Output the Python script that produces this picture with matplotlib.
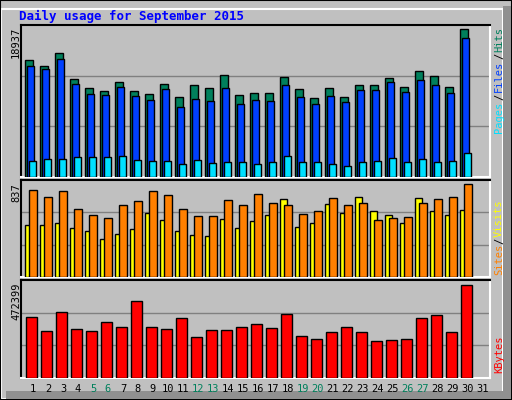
import matplotlib
matplotlib.use("Agg")
import matplotlib.pyplot as plt
from matplotlib.patches import Rectangle
import numpy as np

# ================= Data =================
days = list(range(1, 32))
hits = [14850, 14080, 15740, 12410, 11260, 10880, 12030, 10880, 10490, 11770,
        10110, 11650, 11260, 12930, 10370, 10620, 10620, 12670, 11140, 9980,
        11260, 10110, 11650, 11650, 12540, 11390, 13440, 12800, 11390, 18810]
files = [14080, 13700, 14980, 11780, 10500, 10370, 11390, 10240, 9730, 11140,
         8960, 9860, 9600, 11260, 9220, 9730, 9600, 11650, 10110, 9220,
         10240, 9470, 11010, 11010, 12030, 10750, 12290, 11650, 10620, 17660]
pages = [2050, 2300, 2300, 2560, 2560, 2560, 2690, 2180, 2050, 2050,
         1660, 2180, 1790, 1920, 1920, 1660, 1920, 2690, 1920, 1920,
         1660, 1410, 1920, 2050, 2430, 1920, 2300, 1920, 2050, 3070]
visits = [782, 716, 771, 616, 561, 534, 652, 680, 771, 734,
          616, 552, 552, 689, 652, 743, 662, 652, 571, 598,
          707, 652, 662, 516, 534, 543, 662, 698, 716, 834]
sites = [464, 464, 482, 437, 410, 346, 391, 428, 573, 510,
         410, 382, 373, 519, 437, 501, 555, 701, 446, 482,
         655, 573, 719, 592, 555, 482, 710, 592, 555, 601]
kbytes = [304500, 237700, 330200, 248000, 237700, 284000, 258300, 386700, 258300, 248000,
          299400, 206900, 242900, 242900, 258300, 273700, 253200, 319900, 212100, 196700,
          232600, 258300, 232600, 186400, 191600, 196700, 299400, 314800, 232600, 468800]
weekend = [5, 6, 12, 13, 19, 20, 26, 27]
max_hits, max_visits, max_kbytes = 18937, 837, 472399
# ===============================================================

BG = "#C0C0C0"
W, H = 512, 400
fig = plt.figure(figsize=(W / 100, H / 100), dpi=100, facecolor=BG)

# 3D-ish outer frame
fig.add_artist(Rectangle((1 / W, 1 / H), (W - 10) / W, (H - 10) / H, transform=fig.transFigure,
                         fill=False, ec="white", lw=1.5))
fig.add_artist(Rectangle((0, 0), 1, 1, transform=fig.transFigure, fill=False, ec="black", lw=1.5))
fig.add_artist(Rectangle((6 / W, 1 / H), (W - 7) / W, 8 / H, transform=fig.transFigure,
                         fc="#909090", ec="none"))
fig.add_artist(Rectangle(((W - 9) / W, 1 / H), 8 / W, (H - 7) / H, transform=fig.transFigure,
                         fc="#909090", ec="none"))

fig.text(19 / W, 1 - 16 / H, "Daily usage for September 2015", color="#0000FF",
         family="DejaVu Sans Mono", fontweight="bold", fontsize=9, va="center")

x = np.array(days[:30])
XL = (0.333, 31.6)


def make_ax(top, bottom):
    ax = fig.add_axes([21 / W, 1 - bottom / H, 469 / W, (bottom - top) / H])
    ax.set_facecolor(BG)
    ax.set_xlim(*XL)
    ax.set_xticks([])
    ax.set_yticks([])
    for s in ("top", "left"):
        ax.spines[s].set_color("black")
    for s in ("bottom", "right"):
        ax.spines[s].set_color("white")
    for sp in ax.spines.values():
        sp.set_linewidth(1.5)
    return ax


def bars(ax, vals, lo, hi, color):
    ax.bar(x + (lo + hi) / 2, vals, width=hi - lo, color=color, edgecolor="black", linewidth=1, zorder=3)


def grid(ax, top):
    for f in (1 / 3, 2 / 3):
        ax.axhline(top * f, color="#808080", lw=1, zorder=1)


# Hits / Files / Pages
ax1 = make_ax(25, 177)
top1 = max_hits * 151 / 148
ax1.set_ylim(0, top1)
grid(ax1, top1)
bars(ax1, hits, -0.4, 0.13, "#00805C")
bars(ax1, files, -0.27, 0.2, "#0040FF")
bars(ax1, pages, -0.13, 0.33, "#00E0FF")

# Visits / Sites
ax2 = make_ax(180, 277)
top2 = max_visits * 96 / 92
ax2.set_ylim(0, top2)
grid(ax2, top2)
bars(ax2, sites, -0.4, 0.07, "#FFFF00")
bars(ax2, visits, -0.13, 0.4, "#FF8000")

# KBytes
ax3 = make_ax(280, 378)
top3 = max_kbytes * 96 / 92
ax3.set_ylim(0, top3)
grid(ax3, top3)
bars(ax3, kbytes, -0.33, 0.4, "#FF0000")

# max labels on left
mono = "DejaVu Sans Mono"
for lab, ytop in (("18937", 27), ("837", 183), ("472399", 283)):
    fig.text(16 / W, 1 - ytop / H, lab, rotation=90, fontsize=7.5, family=mono,
             ha="center", va="top")

# day labels
for d in days:
    xp = 21 + (d + 0.13 - XL[0]) / (XL[1] - XL[0]) * 469
    fig.text(xp / W, 1 - 389 / H, str(d), fontsize=7.5, family=mono, ha="center", va="center",
             color="#00805C" if d in weekend else "black")

# right-side legend labels
def rlabel(text, ymid, color):
    fig.text(499 / W, 1 - ymid / H, text, rotation=90, fontsize=7.5, family=mono,
             ha="center", va="center", color=color)

rlabel("Hits", 40, "#00805C")
rlabel("/", 56, "black")
rlabel("Files", 76, "#0040FF")
rlabel("/", 97, "black")
rlabel("Pages", 117, "#00E0FF")
rlabel("Visits", 218, "#FFFF00")
rlabel("/", 241, "black")
rlabel("Sites", 259, "#FF8000")
rlabel("KBytes", 354, "#FF0000")

fig.savefig("out.png", dpi=100, facecolor=BG)
